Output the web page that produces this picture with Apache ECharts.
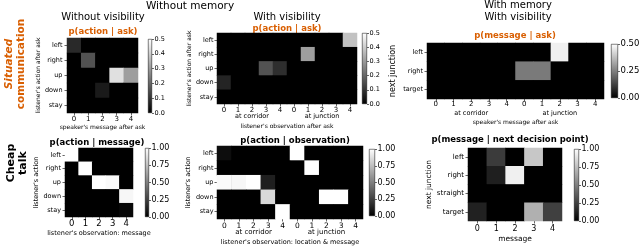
<!DOCTYPE html>
<html><head><meta charset="utf-8">
<script src="https://cdn.jsdelivr.net/npm/echarts/dist/echarts.min.js"></script>
<style>html,body{margin:0;padding:0;background:#fff}#c{width:640px;height:246px}</style>
</head><body><div id="c"></div>
<script>
// ---- data ----
const actions = ['left','right','up','down','stay'];
const junctions3 = ['left','right','target'];
const junctions4 = ['left','right','straight','target'];
const msgTicks = ['0','1','2','3','4'];
const obsTicks = ['0','1','2','3','4','0','1','2','3','4'];
const locGroups = ['at corridor','at junction'];

// p(action | ask), without memory, without visibility  (rows: actions, cols: message 0-4)
const sitNoVis = [
  [0.08, 0,    0,    0,    0   ],
  [0,    0.16, 0,    0,    0   ],
  [0,    0,    0,    0.44, 0.31],
  [0,    0,    0.05, 0,    0   ],
  [0,    0,    0,    0,    0   ]
];
// p(action | ask), without memory, with visibility (cols: corridor 0-4, junction 0-4)
const sitVis = [
  [0,    0, 0, 0,    0,    0, 0,    0, 0, 0.38],
  [0,    0, 0, 0,    0,    0, 0.31, 0, 0, 0   ],
  [0,    0, 0, 0.16, 0.09, 0, 0,    0, 0, 0   ],
  [0.07, 0, 0, 0,    0,    0, 0,    0, 0, 0   ],
  [0,    0, 0, 0,    0,    0, 0,    0, 0, 0   ]
];
// p(message | ask), with memory, with visibility (rows: next junction)
const sitMem = [
  [0, 0, 0, 0, 0, 0,    0,    0.47, 0, 0],
  [0, 0, 0, 0, 0, 0.24, 0.24, 0,    0, 0],
  [0, 0, 0, 0, 0, 0,    0,    0,    0, 0]
];
// cheap talk: p(action | message)
const cheapMsg = [
  [1.0, 0,   0,   0,    0   ],
  [0,   1.0, 0,   0,    0   ],
  [0,   0,   1.0, 0.98, 0   ],
  [0,   0,   0,   0,    0.97],
  [0,   0,   0,   0,    0.03]
];
// cheap talk: p(action | observation)
const cheapObs = [
  [0.05, 0,    0,   0,    0,   1.0, 0,   0,   0,   0],
  [0,    0,    0,   0,    0,   0,   1.0, 0,   0,   0],
  [0.98, 0.97, 1.0, 0.12, 0,   0,   0,   0,   0,   0],
  [0,    0,    0,   0.85, 0,   0,   0,   1.0, 1.0, 0],
  [0,    0,    0,   0,    1.0, 0,   0,   0,   0,   0]
];
// cheap talk: p(message | next decision point)
const cheapNext = [
  [0,    0.23, 0,    0.78, 0   ],
  [0,    0.12, 0.94, 0,    0   ],
  [0,    0,    0,    0,    0   ],
  [0.13, 0,    0,    0.69, 0.25]
];

// ---- layout / style ----
const FONT = 'DejaVu Sans';
const ORANGE = '#d95f02';

const panels = [
  {rows: actions, cols: msgTicks, vals: sitNoVis, max: 0.5, cbInt: 0.1, dec: 1,
   grid: {left: 67, top: 38, width: 71, height: 75}, cb: {left: 148, top: 39, width: 4, height: 74},
   xFs: 7, xMargin: 2.5, yFs: 6.5, yMargin: 4.5, cbFs: 6.5,
   xName: "speaker's message after ask", xNameGap: 11, xNameFs: 6,
   yName: "listener's action after ask", yNameGap: 24, yNameFs: 6},
  {rows: actions, cols: obsTicks, vals: sitVis, max: 0.5, cbInt: 0.1, dec: 1,
   grid: {left: 217, top: 33, width: 140, height: 71}, cb: {left: 362, top: 33, width: 5, height: 71},
   xFs: 7, xMargin: 2.5, yFs: 6.5, yMargin: 3.5, cbFs: 6.5,
   groups: true, gOffset: 9, gFs: 6.5,
   xName: "listener's observation after ask", xNameGap: 10, xNameFs: 6,
   yName: "listener's action after ask", yNameGap: 17, yNameFs: 6},
  {rows: junctions3, cols: obsTicks, vals: sitMem, max: 0.5, cbInt: 0.25, dec: 2,
   grid: {left: 427, top: 43, width: 177, height: 56}, cb: {left: 611, top: 44, width: 7, height: 54},
   xFs: 7, xMargin: 2, yFs: 6.5, yMargin: 4, cbFs: 8.5,
   groups: true, gOffset: 10.5, gFs: 6.5,
   xName: "speaker's message after ask", xNameGap: 10, xNameFs: 6,
   yName: "next junction", yNameGap: 30, yNameFs: 8},
  {rows: actions, cols: msgTicks, vals: cheapMsg, max: 1, cbInt: 0.25, dec: 2,
   grid: {left: 65, top: 148, width: 68, height: 69}, cb: {left: 145, top: 148, width: 4, height: 69},
   xFs: 8.5, xMargin: 2.5, yFs: 6.5, yMargin: 4, cbFs: 8,
   xName: "listener's observation: message", xNameGap: 13, xNameFs: 6.5,
   yName: "listener's action", yNameGap: 24, yNameFs: 6.5},
  {rows: actions, cols: obsTicks, vals: cheapObs, max: 1, cbInt: 0.25, dec: 2,
   grid: {left: 217, top: 146, width: 146, height: 73}, cb: {left: 369, top: 149, width: 6, height: 67},
   xFs: 7.5, xMargin: 3, yFs: 6.5, yMargin: 3.5, cbFs: 8,
   groups: true, gOffset: 10, gFs: 7,
   xName: "listener's observation: location & message", xNameGap: 10, xNameFs: 6.5,
   yName: "listener's action", yNameGap: 21, yNameFs: 6.5},
  {rows: junctions4, cols: msgTicks, vals: cheapNext, max: 1, cbInt: 0.25, dec: 2,
   grid: {left: 468, top: 148, width: 94, height: 73}, cb: {left: 574, top: 149, width: 5, height: 72},
   xFs: 8, xMargin: 4, yFs: 7, yMargin: 4, cbFs: 8,
   xName: "message", xNameGap: 14, xNameFs: 7.5,
   yName: "next junction", yNameGap: 34, yNameFs: 7.5}
];

const chart = echarts.init(document.getElementById('c'), null, {renderer: 'canvas'});
const option = {animation: false, backgroundColor: '#fff', grid: [], xAxis: [], yAxis: [], series: [], visualMap: [], graphic: []};
const txt = (fs, extra) => Object.assign({fontFamily: FONT, fontSize: fs, color: '#000'}, extra || {});
const tickStyle = {color: '#000', width: 0.6};

panels.forEach(p => {
  const gi = option.grid.length;
  option.grid.push(Object.assign({containLabel: false, outerBoundsMode: 'none', show: true,
    backgroundColor: '#000', borderWidth: 0}, p.grid));
  const xi = option.xAxis.length;
  option.xAxis.push({
    gridIndex: gi, type: 'category', data: p.cols, position: 'bottom',
    axisLine: {show: false}, axisTick: {show: true, alignWithLabel: true, length: 2.5, lineStyle: tickStyle},
    axisLabel: txt(p.xFs, {margin: p.xMargin, interval: 0}), splitLine: {show: false},
    name: p.groups ? '' : p.xName, nameLocation: 'middle', nameGap: p.xNameGap,
    nameTextStyle: txt(p.xNameFs)
  });
  if (p.groups) {
    option.xAxis.push({
      gridIndex: gi, type: 'category', data: locGroups, position: 'bottom', offset: p.gOffset,
      axisLine: {show: false}, axisTick: {show: false}, splitLine: {show: false},
      axisLabel: txt(p.gFs, {margin: 0, interval: 0}),
      name: p.xName, nameLocation: 'middle', nameGap: p.xNameGap, nameTextStyle: txt(p.xNameFs)
    });
  }
  const yi = option.yAxis.length;
  option.yAxis.push({
    gridIndex: gi, type: 'category', data: p.rows, inverse: true,
    axisLine: {show: false}, axisTick: {show: true, alignWithLabel: true, length: 2.5, lineStyle: tickStyle},
    axisLabel: txt(p.yFs, {margin: p.yMargin, interval: 0}), splitLine: {show: false},
    name: p.yName, nameLocation: 'middle', nameRotate: 90, nameGap: p.yNameGap, nameTextStyle: txt(p.yNameFs)
  });
  const data = [];
  p.vals.forEach((row, r) => row.forEach((v, c) => data.push([c, r, v])));
  const si = option.series.length;
  option.series.push({type: 'heatmap', xAxisIndex: xi, yAxisIndex: yi, data: data, silent: true,
    emphasis: {disabled: true}, itemStyle: {borderWidth: 0}});
  option.visualMap.push({type: 'continuous', show: false, seriesIndex: si, dimension: 2,
    min: 0, max: p.max, inRange: {color: ['#000000', '#ffffff']}});

  // colorbar
  const cgi = option.grid.length;
  option.grid.push(Object.assign({containLabel: false, outerBoundsMode: 'none'}, p.cb));
  const cxi = option.xAxis.length;
  option.xAxis.push({gridIndex: cgi, type: 'category', data: [''], show: false});
  const cyi = option.yAxis.length;
  option.yAxis.push({gridIndex: cgi, type: 'value', min: 0, max: p.max, interval: p.cbInt, position: 'right',
    axisLine: {show: false}, axisTick: {show: true, length: 2, lineStyle: tickStyle}, splitLine: {show: false},
    axisLabel: txt(p.cbFs, {margin: 2.5, formatter: v => v.toFixed(p.dec)})});
  option.series.push({type: 'bar', xAxisIndex: cxi, yAxisIndex: cyi, data: [p.max], barWidth: '100%', silent: true,
    itemStyle: {color: new echarts.graphic.LinearGradient(0, 0, 0, 1, [{offset: 0, color: '#ffffff'}, {offset: 1, color: '#000000'}]),
      borderColor: '#000', borderWidth: 0.5}});
});

function label(text, x, y, fs, opts) {
  opts = opts || {};
  option.graphic.push({type: 'text', x: x, y: y, rotation: opts.rot || 0, silent: true,
    style: Object.assign({text: text, fontFamily: FONT, fontSize: fs, fontWeight: opts.bold ? 'bold' : 'normal',
      fill: opts.color || '#000', textAlign: 'center', textVerticalAlign: 'middle', align: 'center', verticalAlign: 'middle'}, opts.style || {})});
}
label('Without memory', 190, 6, 10.5);
label('Without visibility', 103, 17, 10);
label('With visibility', 287, 17, 10);
label('With memory', 518, 5, 10);
label('With visibility', 518, 17, 10);
label('p(action | ask)', 103, 32, 8.5, {bold: true, color: ORANGE});
label('p(action | ask)', 287, 29, 8.5, {bold: true, color: ORANGE});
label('p(message | ask)', 515, 36, 8.5, {bold: true, color: ORANGE});
label('p(action | message)', 97, 143, 8.5, {bold: true});
label('p(action | observation)', 295, 141, 8.5, {bold: true});
label('p(message | next decision point)', 510, 140, 8.5, {bold: true});

option.graphic.push({type: 'text', x: 15, y: 64, rotation: Math.PI / 2, silent: true,
  style: {text: '{a|Situated}\n{b|communication}', textAlign: 'center', textVerticalAlign: 'middle', align: 'center', verticalAlign: 'middle',
    rich: {a: {fontFamily: FONT, fontSize: 10.5, fontWeight: 'bold', fontStyle: 'italic', fill: ORANGE, color: ORANGE, lineHeight: 12},
           b: {fontFamily: FONT, fontSize: 10.5, fontWeight: 'bold', fill: ORANGE, color: ORANGE, lineHeight: 12}}}});
option.graphic.push({type: 'text', x: 17, y: 163, rotation: Math.PI / 2, silent: true,
  style: {text: 'Cheap\ntalk', fontFamily: FONT, fontSize: 11, fontWeight: 'bold', fill: '#000', lineHeight: 12,
    textAlign: 'center', textVerticalAlign: 'middle', align: 'center', verticalAlign: 'middle'}});

chart.setOption(option);
</script></body></html>
